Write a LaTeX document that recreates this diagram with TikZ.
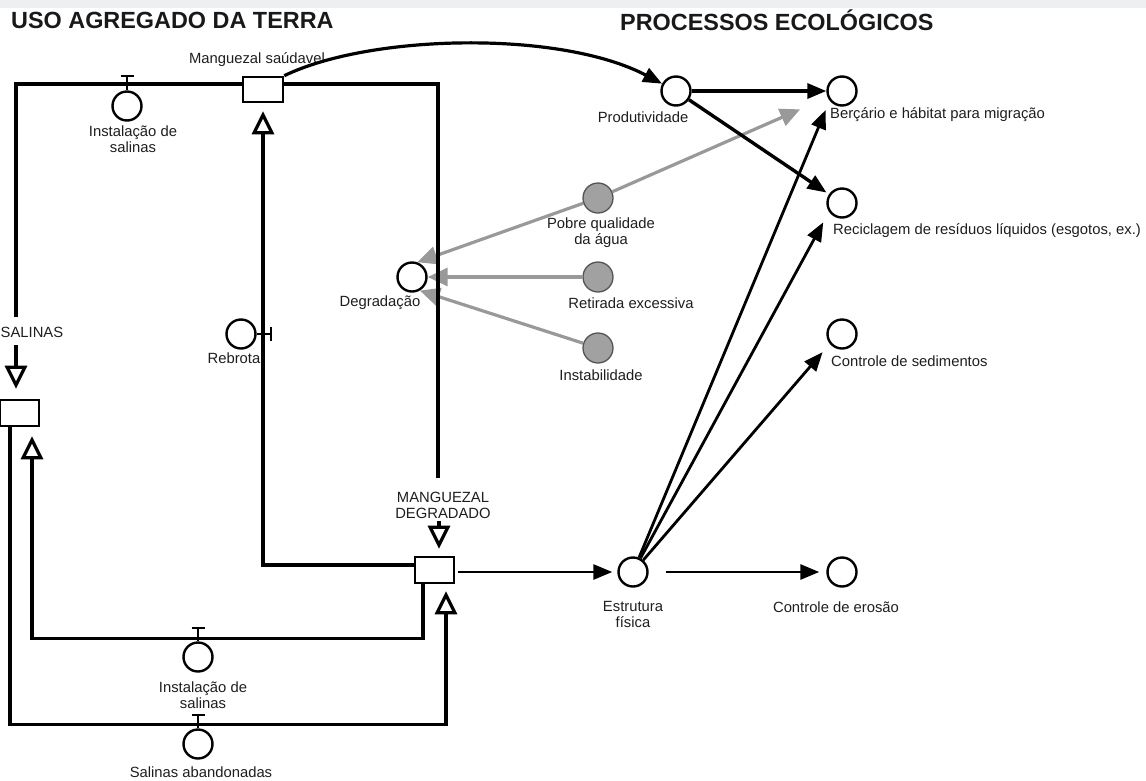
\documentclass[tikz,border=0pt]{standalone}
\usepackage{fontspec}
\setmainfont{Liberation Sans}
\usetikzlibrary{arrows.meta}
\definecolor{topgray}{RGB}{238,239,241}
\definecolor{lblcol}{RGB}{30,30,30}
\begin{document}
\begin{tikzpicture}[x=1pt,y=-1pt,
  stockbox/.style={draw, line width=2.6pt, fill=white, minimum width=40pt, minimum height=25pt, inner sep=0pt},
  pcirc/.style={circle, draw, line width=2.4pt, fill=white, minimum size=29pt, inner sep=0pt},
  gcirc/.style={circle, draw=black!67, line width=1.3pt, fill=black!37, minimum size=30pt, inner sep=0pt},
  lbl/.style={font=\fontsize{14.8}{16}\selectfont, text=lblcol, inner sep=0pt, align=center},
  ttl/.style={font=\fontsize{23.4}{28}\selectfont\bfseries, text=black!90, inner sep=0pt, anchor=west},
  flow/.style={line width=3.6pt},
  flowarr/.style={line width=3.6pt, -{Triangle[open, length=23pt, width=22pt, line width=3.2pt]}},
  valvebar/.style={line width=2.3pt},
  ecoarr/.style={line width=2.8pt, -{Triangle[length=19pt, width=15pt]}},
  grayarr/.style={draw=black!40, line width=3.2pt, -{Triangle[length=20pt, width=18pt]}}
]
\useasboundingbox (0,0) rectangle (1146,780);
\fill[topgray] (0,0) rectangle (1146,7.5);

% titles
\node[ttl] (t1) at (11,20) {USO AGREGADO DA TERRA};
\node[ttl] (t2) at (620,20) {PROCESSOS ECOLÓGICOS};

% stocks
\node[stockbox] (ms) at (263,89.5) {};
\node[stockbox, minimum width=39pt, minimum height=26pt] (sal) at (19.5,413) {};
\node[stockbox, minimum width=39pt, minimum height=26pt] (md) at (434.5,570) {};

% stock labels
\node[lbl] (msl) at (257,60) {Manguezal saúdavel};
\node[lbl, anchor=west] (sall) at (0.5,332) {SALINAS};
\node[lbl] (mdl) at (443,505) {MANGUEZAL\\DEGRADADO};

% valves
\node[pcirc] (v1) at (127,106) {};
\node[pcirc] (v2) at (198,657) {};
\node[pcirc] (v3) at (198,744) {};
\node[pcirc] (reb) at (241,334) {};
\node[lbl] (v1l) at (133,139.5) {Instalação de\\salinas};
\node[lbl] (v2l) at (203,695) {Instalação de\\salinas};
\node[lbl] (v3l) at (201,772) {Salinas abandonadas};
\node[lbl] (rebl) at (234,358) {Rebrota};

% ecological nodes
\node[pcirc] (prod) at (676,91) {};
\node[pcirc] (berc) at (842,91) {};
\node[pcirc] (recy) at (842,203) {};
\node[pcirc] (sedi) at (842,334) {};
\node[pcirc] (eros) at (842,572) {};
\node[pcirc] (estr) at (633,572) {};
\node[pcirc] (degr) at (412,277) {};
\node[gcirc] (pob) at (598,198) {};
\node[gcirc] (ret) at (598,277) {};
\node[gcirc] (inst) at (598,348) {};

\node[lbl] (prodl) at (643,117) {Produtividade};
\node[lbl, anchor=west] (bercl) at (830,115) {Berçário e hábitat para migração};
\node[lbl, anchor=west] (recyl) at (833,231) {Reciclagem de resíduos líquidos (esgotos, ex.)};
\node[lbl, anchor=west] (sedil) at (831,361) {Controle de sedimentos};
\node[lbl] (erosl) at (836,607) {Controle de erosão};
\node[lbl] (estrl) at (633,614) {Estrutura\\física};
\node[lbl] (degrl) at (380,303) {Degradação};
\node[lbl] (pobl) at (601,233) {Pobre qualidade\\da água};
\node[lbl] (retl) at (631,303) {Retirada excessiva};
\node[lbl] (instl) at (601,375) {Instabilidade};

% gray influences
\draw[grayarr] (pob) -- (degr.70);
\draw[grayarr] (ret) -- (degr);
\draw[grayarr] (inst) -- (degr.-60);
\draw[grayarr, shorten >=30pt] (pob) -- (berc);

% flows
\coordinate (salin) at (16,317);
\coordinate (salout) at (16,345);
\draw[flow] ([yshift=5.5pt]ms.west) -| (salin);
\draw[flowarr, shorten >=10pt] (salout) -- (salout |- sal.north);
\coordinate (mdin) at (438,478);
\coordinate (mdout) at (439,521);
\draw[flow] ([yshift=5.5pt]ms.east) -| (mdin);
\draw[flowarr, shorten >=7pt] (mdout) -- (mdout |- md.north);
\draw[flowarr, shorten >=8pt] ([yshift=5pt]md.west) -| (ms.south);
\draw[flowarr, shorten >=9pt] ([xshift=-11.5pt]md.south) -- ++(0,54) -| ([xshift=12.5pt]sal.south);
\draw[flowarr, shorten >=7pt] ([xshift=-9.5pt]sal.south) -- ++(0,297) -| ([xshift=11.5pt]md.south);

% valve stems
\draw[valvebar] (v1.north) -- ++(0,-14) coordinate (v1t);
\draw[valvebar] ([xshift=-6.5pt]v1t) -- ([xshift=6.5pt]v1t);
\draw[valvebar] (v2.north) -- ++(0,-13) coordinate (v2t);
\draw[valvebar] ([xshift=-6.5pt]v2t) -- ([xshift=6.5pt]v2t);
\draw[valvebar] (v3.north) -- ++(0,-13) coordinate (v3t);
\draw[valvebar] ([xshift=-6.5pt]v3t) -- ([xshift=6.5pt]v3t);
\draw[valvebar] (reb.east) -- ++(14,0) coordinate (rebt);
\draw[valvebar] ([yshift=-7pt]rebt) -- ([yshift=7pt]rebt);

% curve to productivity
\draw[line width=3.2pt, -{Triangle[length=19pt, width=15pt]}] (ms.north east) .. controls (370,34) and (560,30) .. (prod);

% ecological arrows
\draw[ecoarr, line width=3.4pt] (prod) -- (berc);
\draw[ecoarr, line width=3.4pt, shorten >=3pt] (prod) -- (recy);
\draw[ecoarr, shorten <=3pt, shorten >=5pt] ([yshift=-2pt]md.east) -- (estr);
\draw[ecoarr, shorten <=17pt, shorten >=7pt] (estr) -- (eros);
\draw[ecoarr, shorten >=10pt] (estr) -- (berc.218);
\draw[ecoarr, shorten >=12pt] (estr) -- (recy.214);
\draw[ecoarr, shorten >=11pt] (estr) -- (sedi.219);
\end{tikzpicture}
\end{document}
